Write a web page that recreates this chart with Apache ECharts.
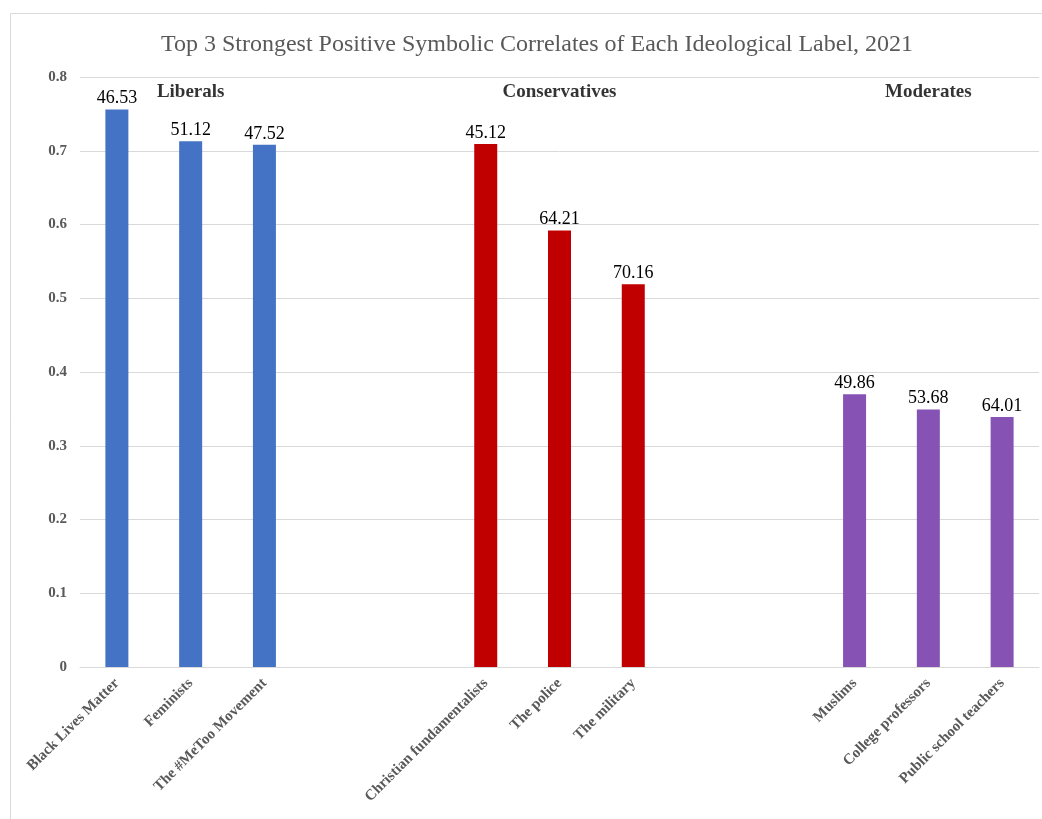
<!DOCTYPE html>
<html>
<head>
<meta charset="utf-8">
<style>
  html, body { margin: 0; padding: 0; background: #ffffff; }
  #chart { width: 1042px; height: 819px; }
</style>
<script src="https://cdn.jsdelivr.net/npm/echarts@6/dist/echarts.min.js"></script>
</head>
<body>
<div id="chart"></div>
<script>
// Categories: three groups of three, with two blank slots between groups
const categories = [
  'Black Lives Matter', 'Feminists', 'The #MeToo Movement', '', '',
  'Christian fundamentalists', 'The police', 'The military', '', '',
  'Muslims', 'College professors', 'Public school teachers'
];
// Correlation values (bar heights)
const values = [
  0.756, 0.713, 0.708, null, null,
  0.709, 0.592, 0.519, null, null,
  0.370, 0.349, 0.339
];
// Numbers printed above each bar
const barLabels = [
  '46.53', '51.12', '47.52', '', '',
  '45.12', '64.21', '70.16', '', '',
  '49.86', '53.68', '64.01'
];
// Group of each category (index into groupNames / groupColors)
const groupOf = [0, 0, 0, -1, -1, 1, 1, 1, -1, -1, 2, 2, 2];
const groupNames = ['Liberals', 'Conservatives', 'Moderates'];
const groupColors = ['#4472C4', '#C00000', '#8652B4'];
// Group headings sit above the middle bar of each group
const groupHeadingCats = ['Feminists', 'The police', 'College professors'];
const groupHeadingValue = 0.779;
const yTicks = { min: 0, max: 0.8, interval: 0.1 };

const serif = '"Liberation Serif", "DejaVu Serif", serif';

const chart = echarts.init(document.getElementById('chart'), null, { renderer: 'canvas' });

const barData = values.map((v, i) => v == null ? null : {
  value: v,
  itemStyle: { color: groupColors[groupOf[i]] }
});

const headingData = groupHeadingCats.map((c, i) => ({
  value: [c, groupHeadingValue],
  name: groupNames[i]
}));

chart.setOption({
  animation: false,
  backgroundColor: '#ffffff',
  graphic: [{
    type: 'rect',
    shape: { x: 10.5, y: 13.5, width: 1040, height: 820 },
    style: { fill: null, stroke: '#d9d9d9', lineWidth: 1 },
    silent: true
  }],
  title: {
    text: 'Top 3 Strongest Positive Symbolic Correlates of Each Ideological Label, 2021',
    left: 532,
    top: 28,
    textAlign: 'center',
    textStyle: { fontFamily: serif, fontSize: 24, fontWeight: 'normal', color: '#595959' }
  },
  grid: { left: 80, right: 3, top: 77, bottom: 152, containLabel: false },
  xAxis: {
    type: 'category',
    data: categories,
    axisLine: { lineStyle: { color: '#d9d9d9', width: 1 } },
    axisTick: { show: false },
    axisLabel: {
      interval: 0,
      rotate: 45,
      margin: 14,
      fontFamily: serif,
      fontSize: 15,
      fontWeight: 'bold',
      color: '#595959'
    }
  },
  yAxis: {
    type: 'value',
    min: yTicks.min,
    max: yTicks.max,
    interval: yTicks.interval,
    axisLine: { show: false },
    axisTick: { show: false },
    splitLine: { lineStyle: { color: '#d9d9d9', width: 1 } },
    axisLabel: {
      margin: 13,
      fontFamily: serif,
      fontSize: 15,
      fontWeight: 'bold',
      color: '#595959',
      formatter: v => v === 0 ? '0' : v.toFixed(1)
    }
  },
  series: [
    {
      type: 'bar',
      data: barData,
      barWidth: 23,
      label: {
        show: true,
        position: 'top',
        distance: 2,
        fontFamily: serif,
        fontSize: 18,
        color: '#000000',
        formatter: p => barLabels[p.dataIndex]
      }
    },
    {
      type: 'scatter',
      data: headingData,
      symbolSize: 0,
      silent: true,
      label: {
        show: true,
        position: 'inside',
        fontFamily: serif,
        fontSize: 19,
        fontWeight: 'bold',
        color: '#000000',
        formatter: p => p.name
      }
    }
  ]
});
</script>
</body>
</html>
